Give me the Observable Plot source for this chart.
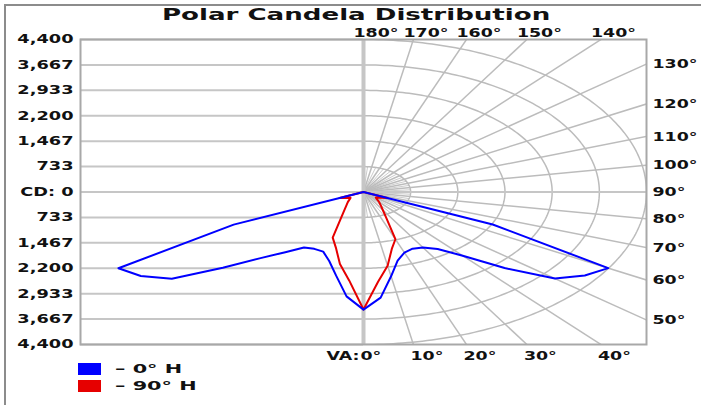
<!DOCTYPE html>
<html><head><meta charset="utf-8">
<script src="https://cdn.jsdelivr.net/npm/d3@7"></script>
<script src="https://cdn.jsdelivr.net/npm/@observablehq/plot@0.6"></script>
<style>
html,body{margin:0;padding:0;background:#fff;}
#wrap{position:relative;width:701px;height:405px;overflow:hidden;font-family:"DejaVu Sans",sans-serif;color:#111;}
#border{position:absolute;left:4px;top:4px;width:720px;height:420px;border-left:2px solid #8c8c8c;border-top:2px solid #8c8c8c;pointer-events:none;}
#title{height:27px;box-sizing:border-box;padding-top:3px;line-height:24px;text-align:center;padding-left:11px;font-weight:bold;font-size:16px;white-space:nowrap;}
#title span{display:inline-block;transform:scaleX(1.63);transform-origin:50% 50%;}
#chart svg{display:block;}
.row{height:17px;display:flex;align-items:center;}
.sw{width:23px;height:12px;margin-left:78px;}
.lt{margin-left:14px;font-size:13px;font-weight:bold;display:inline-block;transform:scaleX(1.6);transform-origin:0 50%;line-height:17px;white-space:nowrap;}
</style></head>
<body>
<div id="wrap">
  <div id="title"><span>Polar Candela Distribution</span></div>
  <div id="chart"></div>
  <div id="legend"></div>
  <div id="border"></div>
</div>
<script>
// ---- data ----
const vAngles = [0,5,10,15,20,25,30,35,40,45,50,55,60,65,70,75,80,85,90];
// 0° H plane: left half (180° side) and right half (0° side)
const h0Left  = [3394,3024,2450,2060,1832,1810,1851,2120,2490,3093,3891,4227,4400,2227,0,0,0,0,0];
const h0Right = [3394,3060,2470,2050,1860,1805,1848,2010,2400,3103,3886,4200,4394,2217,0,0,0,0,0];
// 90° H plane: left half (270° side) and right half (90° side)
const h90Left  = [3390,2560,2110,1660,1400,825,588,460,380,310,263,296,340,410,0,0,0,0,0];
const h90Right = [3390,2600,2160,1700,1450,850,600,465,377,300,250,285,335,412,0,0,0,0,0];

const seriesNames = ["– 0° H", "– 90° H"];
const seriesColors = ["#0000ff", "#e60000"];

const cdTicks = [4400,3667,2933,2200,1467,733,0,-733,-1467,-2200,-2933,-3667,-4400];
const cdTickLabels = ["4,400","3,667","2,933","2,200","1,467","733","CD: 0","733","1,467","2,200","2,933","3,667","4,400"];
const rings = [733,1467,2200,2933,3667,4400];
const topAngles = [180,170,160,150,140];
const rightAngles = [130,120,110,100,90,80,70,60,50];
const bottomAngles = [0,10,20,30,40];
const cdMax = 4400;

// ---- geometry helpers ----
const rad = d => d * Math.PI / 180;
function loop(left, right) {
  const pts = [];
  for (let i = vAngles.length - 1; i >= 0; i--) pts.push({x: -left[i] * Math.sin(rad(vAngles[i])), y: -left[i] * Math.cos(rad(vAngles[i]))});
  for (let i = 0; i < vAngles.length; i++) pts.push({x: right[i] * Math.sin(rad(vAngles[i])), y: -right[i] * Math.cos(rad(vAngles[i]))});
  return pts;
}
const blueLoop = loop(h0Left, h0Right);
const redLoop = loop(h90Left, h90Right);

const arcPts = [];
for (const r of rings) for (let a = 0; a <= 180; a += 1) arcPts.push({r, x: r * Math.sin(rad(a)), y: -r * Math.cos(rad(a))});
const longRays = d3.range(10, 180, 10);
const shortRays = d3.range(5, 180, 10);
const R = 20000;
const labelMap = new Map(cdTicks.map((d, i) => [d, cdTickLabels[i]]));

const gridC = "#bcbcbc";
const chart = Plot.plot({
  width: 701, height: 333,
  marginLeft: 80, marginRight: 55, marginTop: 12, marginBottom: 16,
  x: {domain: [-cdMax, cdMax], axis: null},
  y: {domain: [-cdMax, cdMax], axis: null},
  style: {fontFamily: "DejaVu Sans", background: "white", color: "#111", overflow: "visible"},
  marks: [
    Plot.ruleY(cdTicks.filter(d => d !== 0), {x1: -cdMax, x2: 0, stroke: "#c6c6c6", strokeWidth: 2}),
    Plot.link(shortRays, {x1: 0, y1: 0, x2: a => rings[0] * Math.sin(rad(a)), y2: a => -rings[0] * Math.cos(rad(a)), stroke: "#cccccc", strokeWidth: 1}),
    Plot.link(longRays, {x1: 0, y1: 0, x2: a => R * Math.sin(rad(a)), y2: a => -R * Math.cos(rad(a)), stroke: gridC, strokeWidth: 1.5, clip: true}),
    Plot.line(arcPts, {x: "x", y: "y", z: "r", stroke: gridC, strokeWidth: 1.5, clip: true}),
    Plot.ruleY([0], {x1: -cdMax, x2: cdMax, stroke: "#c6c6c6", strokeWidth: 2}),
    Plot.ruleX([0], {stroke: "#c6c6c6", strokeWidth: 4}),
    Plot.frame({stroke: "#a8a8a8", strokeWidth: 2}),
    Plot.line(redLoop, {x: "x", y: "y", stroke: seriesColors[1], strokeWidth: 2}),
    Plot.line(blueLoop, {x: "x", y: "y", stroke: seriesColors[0], strokeWidth: 2}),
    Plot.axisY(cdTicks, {tickSize: 0, tickPadding: 7, tickFormat: d => labelMap.get(d), label: null, fontSize: 12, fontWeight: "bold", fill: "#111"}),
    Plot.text(rightAngles, {x: cdMax, y: a => cdMax * Math.tan(rad(a - 90)), text: a => `${a}°`, textAnchor: "start", dx: 6, fontSize: 13, fontWeight: "bold", fill: "#111"}),
    Plot.text(topAngles, {x: a => cdMax * Math.tan(rad(180 - a)), y: cdMax, text: a => `${a}°`, textAnchor: "start", dx: -10, dy: -7, fontSize: 13, fontWeight: "bold", fill: "#111"}),
    Plot.text(bottomAngles, {x: a => cdMax * Math.tan(rad(a)), y: -cdMax, text: a => `${a}°`, textAnchor: "start", dx: -3, dy: 11, fontSize: 13, fontWeight: "bold", fill: "#111"}),
    Plot.text(["VA:"], {x: 0, y: -cdMax, text: d => d, textAnchor: "end", dx: -4, dy: 11, fontSize: 13, fontWeight: "bold", fill: "#111"})
  ]
});
document.getElementById("chart").appendChild(chart);

// horizontal stretch of text, as in the reference picture (scale about each label's anchor)
const SX = {"12": 1.48, "13": 1.34};
chart.querySelectorAll("text").forEach(el => {
  const g = el.closest("[font-size]");
  const sx = g ? SX[g.getAttribute("font-size")] : null;
  if (!sx) return;
  const t = el.getAttribute("transform") || "";
  const x = parseFloat(el.getAttribute("x"));
  if (!isNaN(x)) { el.removeAttribute("x"); el.setAttribute("transform", `${t} translate(${x},0) scale(${sx},1)`); }
  else el.setAttribute("transform", `${t} scale(${sx},1)`);
});

const legend = document.getElementById("legend");
seriesNames.forEach((n, i) => {
  const row = document.createElement("div"); row.className = "row";
  const sw = document.createElement("span"); sw.className = "sw"; sw.style.background = seriesColors[i];
  const lt = document.createElement("span"); lt.className = "lt"; lt.textContent = n;
  row.appendChild(sw); row.appendChild(lt); legend.appendChild(row);
});
</script>
</body></html>
